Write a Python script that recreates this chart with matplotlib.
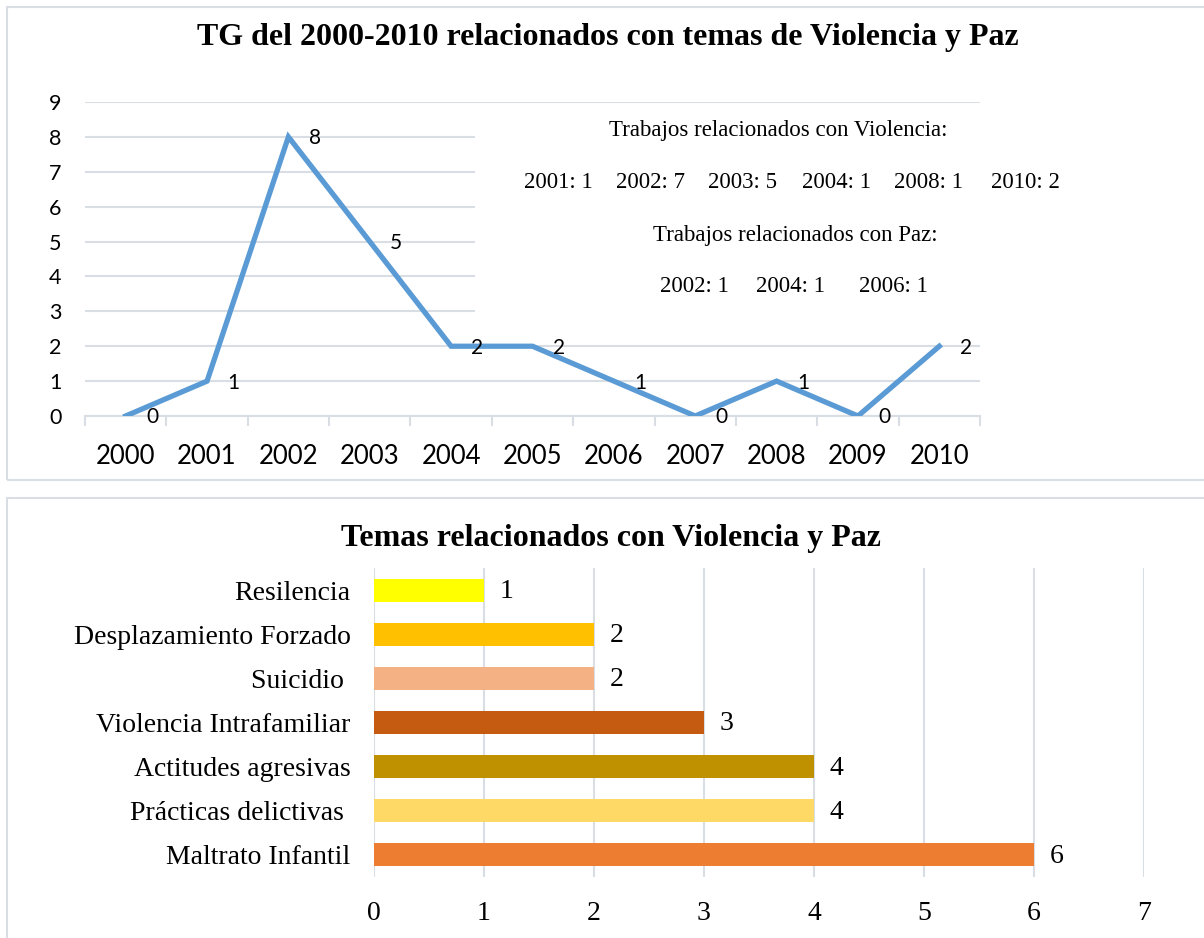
import matplotlib.pyplot as plt
from matplotlib.patches import Rectangle

# datos grafico de lineas
anios = ['2000', '2001', '2002', '2003', '2004', '2005', '2006', '2007', '2008', '2009', '2010']
trabajos = [0, 1, 8, 5, 2, 2, 1, 0, 1, 0, 2]

# notas del recuadro
titulo_violencia = 'Trabajos relacionados con Violencia:'
items_violencia = ['2001: 1', '2002: 7', '2003: 5', '2004: 1', '2008: 1', '2010: 2']
titulo_paz = 'Trabajos relacionados con Paz:'
items_paz = ['2002: 1', '2004: 1', '2006: 1']

# datos grafico de barras
temas = ['Resilencia', 'Desplazamiento Forzado', 'Suicidio ', 'Violencia Intrafamiliar',
         'Actitudes agresivas', 'Prácticas delictivas ', 'Maltrato Infantil']
cantidad = [1, 2, 2, 3, 4, 4, 6]
colores = ['#FFFF00', '#FFC000', '#F4B183', '#C55A11', '#BF9000', '#FFD966', '#ED7D31']

W, H = 1204, 938
gris = '#D9DEE5'
serif = 'Liberation Serif'
sans = 'Lato'


def caja(x0, y0, x1, y1):
    # rectangulo en pixeles (origen arriba a la izquierda) -> fraccion de figura
    return [x0 / W, 1 - y1 / H, (x1 - x0) / W, (y1 - y0) / H]


def texto(cx, cy, t, **kw):
    fig.text(cx / W, 1 - cy / H, t, ha='center', va='center', **kw)


fig = plt.figure(figsize=(W / 100, H / 100), dpi=100)

# marcos de los dos graficos
for y0, y1 in [(7, 480), (498, 960)]:
    fig.patches.append(Rectangle((7 / W, 1 - y1 / H), 1.2, (y1 - y0) / H,
                                 transform=fig.transFigure, fill=False,
                                 edgecolor=gris, lw=1.5))

# ---------- grafico 1 ----------
ax1 = fig.add_axes(caja(85, 102, 980, 416))
x = list(range(len(anios)))
ax1.plot(x, trabajos, color='#5B9BD5', lw=3.8, zorder=3, solid_joinstyle='miter')
for xi, v in zip(x, trabajos):
    ax1.annotate(str(v), (xi, v), xytext=(19, -1), textcoords='offset points',
                 ha='center', va='center', fontsize=15, family=sans, zorder=5)
ax1.set_xlim(-0.5, len(anios) - 0.5)
ax1.set_ylim(0, 9)
ax1.set_yticks(range(10))
ax1.set_xticks(x)
ax1.set_xticklabels(anios)
ax1.set_xticks([i - 0.5 for i in range(len(anios) + 1)], minor=True)
ax1.grid(axis='y', color=gris, lw=1.5)
ax1.set_axisbelow(True)
for s in ['top', 'right', 'left']:
    ax1.spines[s].set_visible(False)
ax1.spines['bottom'].set_color(gris)
ax1.spines['bottom'].set_linewidth(1.5)
ax1.tick_params(axis='y', length=0, pad=17, labelsize=15.5)
ax1.tick_params(axis='x', which='major', length=0, pad=20, labelsize=18.5)
ax1.tick_params(axis='x', which='minor', length=7, color=gris, width=1.5)
for lab in ax1.get_xticklabels() + ax1.get_yticklabels():
    lab.set_family(sans)

# recuadro blanco con las notas
ax1.add_patch(Rectangle((4.29, 2.93), 8, 6.0, facecolor='white', edgecolor='none',
                        zorder=1, clip_on=False))
texto(778, 130, titulo_violencia, fontsize=16.5, family=serif, zorder=6)
for cx, t in zip([558, 651, 743, 837, 928, 1025], items_violencia):
    texto(cx, 182, t, fontsize=16.5, family=serif, zorder=6)
texto(795, 235, titulo_paz, fontsize=16.5, family=serif, zorder=6)
for cx, t in zip([694, 790, 893], items_paz):
    texto(cx, 287, t, fontsize=16.5, family=serif, zorder=6)

texto(608, 37, 'TG del 2000-2010 relacionados con temas de Violencia y Paz',
      fontsize=23, fontweight='bold', family=serif)

# ---------- grafico 2 ----------
ax2 = fig.add_axes(caja(374, 568, 1144, 877))
y = list(range(len(temas)))
ax2.barh(y, cantidad, height=0.52, color=colores, zorder=2)
for yi, v in zip(y, cantidad):
    ax2.annotate(str(v), (v, yi), xytext=(11, -1), textcoords='offset points',
                 ha='left', va='center', fontsize=20, family=serif)
ax2.set_xlim(0, 7)
ax2.set_ylim(len(temas) - 0.5, -0.5)
ax2.set_yticks(y)
ax2.set_yticklabels(temas)
ax2.set_xticks(range(8))
ax2.grid(axis='x', color=gris, lw=1.5)
ax2.set_axisbelow(True)
for s in ax2.spines.values():
    s.set_visible(False)
ax2.tick_params(axis='y', length=0, pad=17, labelsize=20)
ax2.tick_params(axis='x', length=0, pad=17, labelsize=20)
for lab in ax2.get_xticklabels() + ax2.get_yticklabels():
    lab.set_family(serif)

texto(611, 538, 'Temas relacionados con Violencia y Paz',
      fontsize=23, fontweight='bold', family=serif)

fig.savefig('out.png', dpi=100)
